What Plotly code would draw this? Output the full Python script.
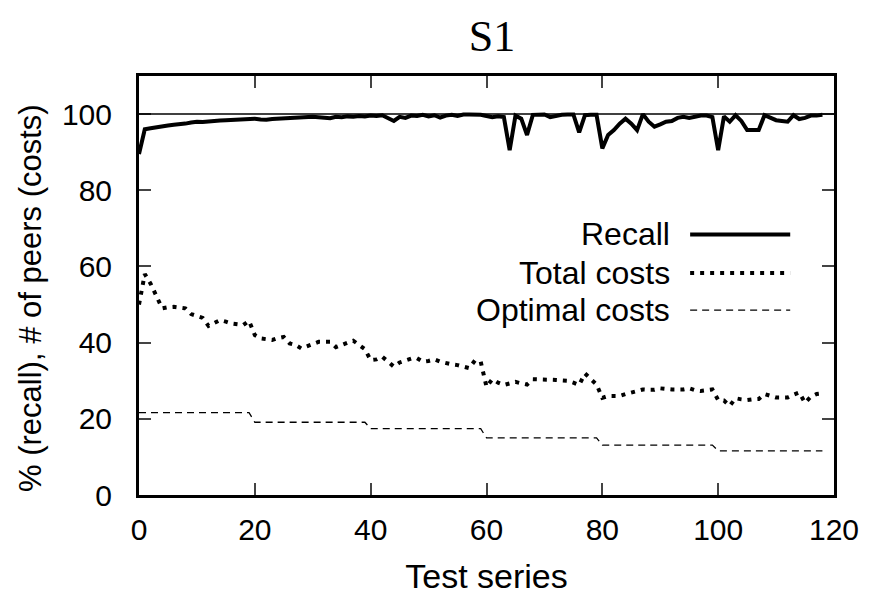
import plotly.graph_objects as go

test_series = list(range(119))

recall = [
    89.5, 96.0, 96.3, 96.6, 96.8, 97.0, 97.2, 97.3, 97.5, 97.8,
    98.0, 97.9, 98.1, 98.2, 98.3, 98.4, 98.5, 98.6, 98.6, 98.7,
    98.8, 98.6, 98.5, 98.7, 98.8, 98.9, 99.0, 99.1, 99.2, 99.1,
    99.3, 99.2, 99.0, 98.9, 99.3, 99.2, 99.4, 99.3, 99.5, 99.4,
    99.6, 99.5, 99.7, 98.8, 98.2, 99.3, 99.0, 99.6, 99.5, 99.8,
    99.4, 99.7, 99.1, 99.6, 99.8, 99.5, 99.9, 99.9, 99.9, 99.8,
    99.5, 99.2, 99.4, 99.2, 90.5, 99.6, 98.8, 94.5, 99.8, 99.9,
    99.9, 99.2, 99.6, 99.8, 99.9, 99.9, 95.2, 99.7, 99.8, 99.8,
    91.0, 94.5, 95.8, 97.5, 98.8, 97.5, 95.8, 100.0, 98.0, 96.7,
    97.3, 98.0, 98.2, 99.0, 99.3, 99.0, 99.3, 99.6, 99.6, 99.2,
    90.5, 99.4, 98.0, 99.7, 98.2, 95.8, 95.8, 95.8, 99.7, 99.0,
    98.4, 98.2, 98.0, 99.7, 98.7, 99.0, 99.6, 99.6, 99.8,
]

total_costs = [
    50.0, 58.0, 55.5, 52.0, 49.0, 49.3, 49.4, 49.2, 49.0, 47.5,
    47.0, 46.5, 44.4, 45.3, 45.9, 45.5, 45.0, 44.8, 44.6, 45.7,
    42.0, 41.1, 40.8, 40.7, 41.2, 41.5, 39.8, 39.4, 38.5, 39.0,
    39.6, 40.2, 40.2, 40.2, 38.8, 39.5, 40.0, 40.5, 39.4, 38.3,
    35.4, 35.6, 36.3, 35.0, 33.7, 34.8, 35.4, 35.8, 35.9, 35.0,
    35.2, 35.6, 35.0, 34.6, 34.3, 34.1, 33.6, 33.3, 35.3, 35.0,
    28.4, 30.4, 29.5, 28.9, 29.3, 29.7, 29.3, 29.0, 30.4, 30.4,
    30.4, 30.3, 30.2, 30.1, 30.0, 29.5, 28.9, 31.9, 30.4, 29.0,
    25.5, 26.0, 26.0, 26.0, 26.5, 26.9, 27.3, 27.7, 27.6, 27.6,
    28.0, 27.8, 27.7, 27.7, 27.7, 28.0, 27.5, 27.3, 27.5, 27.7,
    24.9, 24.8, 23.4, 25.4, 25.1, 24.9, 25.1, 25.2, 26.5, 26.0,
    25.6, 25.6, 25.6, 26.3, 26.9, 24.2, 25.8, 26.5, 26.7,
]

optimal_costs = (
    [21.6] * 20 + [19.1] * 20 + [17.4] * 20 + [15.0] * 20 + [13.1] * 20 + [11.6] * 19
)

x_ticks = [0, 20, 40, 60, 80, 100, 120]
y_ticks = [0, 20, 40, 60, 80, 100]

series_names = ["Recall", "Total costs", "Optimal costs"]

SANS = "Liberation Sans, Arial, sans-serif"

fig = go.Figure()
fig.add_trace(go.Scatter(x=test_series, y=recall, mode="lines", name=series_names[0],
                         line=dict(color="black", width=4), showlegend=False))
fig.add_trace(go.Scatter(x=test_series, y=total_costs, mode="lines", name=series_names[1],
                         line=dict(color="black", width=4, dash="4px,6px"), showlegend=False))
fig.add_trace(go.Scatter(x=test_series, y=optimal_costs, mode="lines", name=series_names[2],
                         line=dict(color="black", width=1.3, dash="7px,5px"), showlegend=False))

fig.add_hline(y=100, line=dict(color="black", width=1.5))

# custom legend: text on the left, line sample on the right
legend_y = [0.622, 0.530, 0.441]
legend_styles = [dict(width=4, dash="solid"), dict(width=4, dash="4px,6px"), dict(width=1.3, dash="7px,5px")]
for name, ly, st in zip(series_names, legend_y, legend_styles):
    fig.add_annotation(x=0.767, y=ly, xref="paper", yref="paper", text=name, showarrow=False,
                       xanchor="right", yanchor="middle", font=dict(family=SANS, size=32, color="black"))
    fig.add_shape(type="line", xref="paper", yref="paper", x0=0.793, x1=0.937, y0=ly, y1=ly,
                  line=dict(color="black", **st))

fig.add_annotation(x=-0.157, y=0.47, xref="paper", yref="paper", text="% (recall), # of peers (costs)",
                   showarrow=False, textangle=-90, xanchor="center", yanchor="middle",
                   font=dict(family=SANS, size=31, color="black"))

fig.update_layout(
    width=871, height=596,
    margin=dict(l=139, r=37, t=76, b=101, autoexpand=False),
    paper_bgcolor="white", plot_bgcolor="white",
    title=dict(text="S1", x=0.565, xanchor="center", y=0.94, yanchor="middle",
               font=dict(family="Liberation Serif, DejaVu Serif, serif", size=44, color="black")),
)
fig.update_xaxes(range=[0, 120], tickvals=x_ticks, ticks="inside", ticklen=12, tickwidth=2,
                 showline=True, linewidth=3, linecolor="black", mirror="ticks", showgrid=False,
                 zeroline=False, automargin=False, ticklabelstandoff=6,
                 tickfont=dict(family=SANS, size=30, color="black"),
                 title=dict(text="Test series", font=dict(family=SANS, size=34, color="black"), standoff=20))
fig.update_yaxes(range=[0, 110], tickvals=y_ticks, ticks="inside", ticklen=12, tickwidth=2,
                 showline=True, linewidth=3, linecolor="black", mirror="ticks", showgrid=False,
                 zeroline=False, automargin=False, ticklabelstandoff=18,
                 tickfont=dict(family=SANS, size=30, color="black"))

fig.write_html("out.html", config={"displayModeBar": False},
               post_script="document.body.style.margin='0';")
